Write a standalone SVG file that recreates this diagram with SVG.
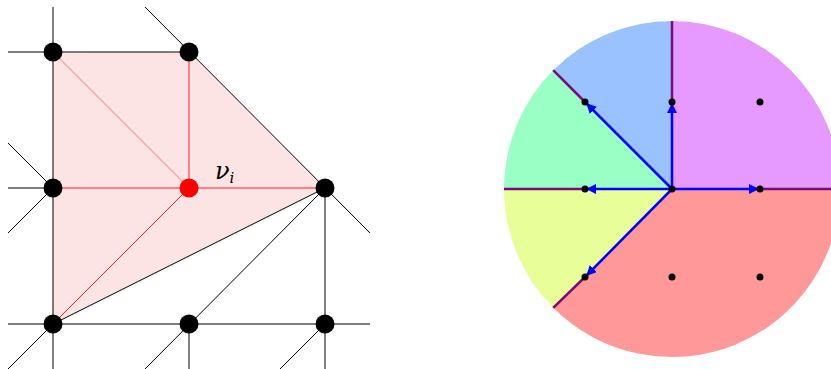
<svg xmlns="http://www.w3.org/2000/svg" width="831" height="369" viewBox="0 0 831 369">
<style>
.k{stroke:#000;stroke-width:1;fill:none}
.r{stroke:#ff2020;stroke-width:1;fill:none}
.nd{fill:#000}
.b{stroke:#7a0a7a;stroke-width:2.5;fill:none}
.a{stroke:#0000ff;stroke-width:2.5;fill:none;marker-end:url(#ah)}
.d{fill:#000}
</style>
<defs>
<marker id="ah" viewBox="0 0 10 10" refX="9" refY="5" markerWidth="4" markerHeight="4" orient="auto" markerUnits="strokeWidth">
<path d="M0,0 L10,5 L0,10 z" fill="#0000ff"/>
</marker>
</defs>
<rect width="831" height="369" fill="#fff"/>
<g id="left">
<polygon points="53,52 189,52 325,188 53,324" fill="#fde4e4"/>
<g id="connectors">
<line class="k" x1="53" y1="7" x2="53" y2="369"/>
<line class="k" x1="8" y1="52" x2="189" y2="52"/>
<line class="k" x1="145" y1="7" x2="370" y2="233"/>
<line class="k" x1="8" y1="188" x2="53" y2="188"/>
<line class="k" x1="8" y1="143" x2="53" y2="188"/>
<line class="k" x1="8" y1="233" x2="53" y2="188"/>
<line class="k" x1="53" y1="324" x2="325" y2="188"/>
<line class="k" x1="325" y1="188" x2="145" y2="369"/>
<line class="k" x1="325" y1="188" x2="325" y2="369"/>
<line class="k" x1="8" y1="324" x2="370" y2="324"/>
<line class="k" x1="189" y1="324" x2="189" y2="369"/>
<line class="k" x1="53" y1="324" x2="8" y2="369"/>
<line class="k" x1="325" y1="324" x2="280" y2="369"/>
<line class="r" x1="189" y1="52" x2="189" y2="188"/>
<line class="r" x1="53" y1="188" x2="325" y2="188"/>
<line class="r" x1="189" y1="188" x2="53" y2="324"/>
<line x1="53" y1="52" x2="189" y2="188" stroke="#f4a8a8" stroke-width="1.5"/>
</g>
<g id="nodes">
<circle id="n1" class="nd" cx="53" cy="52" r="9.5"/>
<circle id="n2" class="nd" cx="189" cy="52" r="9.5"/>
<circle id="n3" class="nd" cx="53" cy="188" r="9.5"/>
<circle id="vi" cx="189" cy="188" r="9.5" fill="#ff0000"/>
<circle id="n5" class="nd" cx="325" cy="188" r="9.5"/>
<circle id="n6" class="nd" cx="53" cy="324" r="9.5"/>
<circle id="n7" class="nd" cx="189" cy="324" r="9.5"/>
<circle id="n8" class="nd" cx="325" cy="324" r="9.5"/>
</g>
<text x="215" y="179" font-family="DejaVu Serif, serif" font-style="italic" font-size="24" fill="#000">ν<tspan font-size="15" dy="4">i</tspan></text>
</g>
<g id="right">
<path d="M672,189 L672,21 A168,168 0 0 1 840,189 Z" fill="#e699ff"/>
<path d="M672,189 L840,189 A168,168 0 0 1 553.2,307.8 Z" fill="#ff9999"/>
<path d="M672,189 L553.2,307.8 A168,168 0 0 1 504,189 Z" fill="#e8ff99"/>
<path d="M672,189 L504,189 A168,168 0 0 1 553.2,70.2 Z" fill="#99ffc4"/>
<path d="M672,189 L553.2,70.2 A168,168 0 0 1 672,21 Z" fill="#99c2ff"/>
<g id="boundaries">
<line class="b" x1="672" y1="21" x2="672" y2="102"/>
<line class="b" x1="504" y1="189" x2="585" y2="189"/>
<line class="b" x1="760" y1="189" x2="840" y2="189"/>
<line class="b" x1="553.2" y1="70.2" x2="585" y2="102"/>
<line class="b" x1="553.2" y1="307.8" x2="585" y2="277"/>
</g>
<g id="arrows">
<line class="a" x1="672" y1="189" x2="672" y2="104"/>
<line class="a" x1="672" y1="189" x2="587" y2="104"/>
<line class="a" x1="672" y1="189" x2="587" y2="189"/>
<line class="a" x1="672" y1="189" x2="587" y2="275"/>
<line class="a" x1="672" y1="189" x2="758" y2="189"/>
</g>
<g id="dots">
<circle class="d" cx="585" cy="102" r="3.5"/>
<circle class="d" cx="672" cy="102" r="3.5"/>
<circle class="d" cx="760" cy="102" r="3.5"/>
<circle class="d" cx="585" cy="189" r="3.5"/>
<circle class="d" cx="672" cy="189" r="3.5"/>
<circle class="d" cx="760" cy="189" r="3.5"/>
<circle class="d" cx="585" cy="277" r="3.5"/>
<circle class="d" cx="672" cy="277" r="3.5"/>
<circle class="d" cx="760" cy="277" r="3.5"/>
</g>
</g>
</svg>
